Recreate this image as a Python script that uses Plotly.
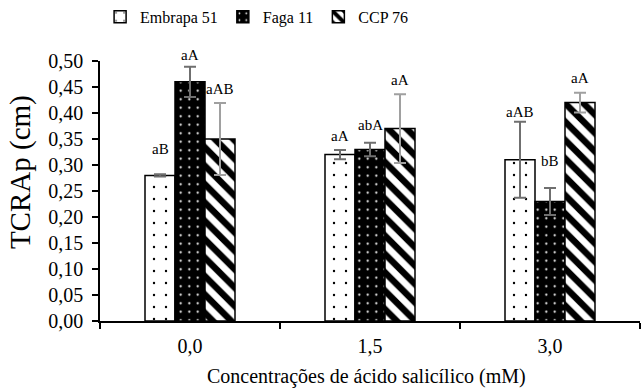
import plotly.graph_objects as go

categories = ["0,0", "1,5", "3,0"]
series_names = ["Embrapa 51", "Faga 11", "CCP 76"]
embrapa = [0.28, 0.32, 0.31]
faga = [0.46, 0.33, 0.23]
ccp = [0.35, 0.37, 0.42]
embrapa_err = [0.002, 0.009, 0.073]
faga_err = [0.029, 0.013, 0.026]
ccp_err = [0.069, 0.066, 0.019]
embrapa_lbl = ["aB", "aA", "aAB"]
faga_lbl = ["aA", "abA", "bB"]
ccp_lbl = ["aAB", "aA", "aA"]
x_title = "Concentrações de ácido salicílico (mM)"
y_title = "TCRAp (cm)"

values = [embrapa, faga, ccp]
errors = [embrapa_err, faga_err, ccp_err]
labels = [embrapa_lbl, faga_lbl, ccp_lbl]

FONT = "Liberation Serif, Times New Roman, serif"

patterns = [
    dict(shape=".", bgcolor="white", fgcolor="black", size=12, solidity=0.03, fillmode="replace"),
    dict(shape=".", bgcolor="black", fgcolor="white", size=8.5, solidity=0.05, fillmode="replace"),
    dict(shape="\\", bgcolor="white", fgcolor="black", size=13, solidity=0.5, fillmode="replace"),
]
err_colors = ["#6f6f6f", "#6f6f6f", "#a0a0a0"]

fig = go.Figure()
for i in range(3):
    fig.add_trace(go.Bar(
        x=categories, y=values[i], name=series_names[i],
        marker=dict(color="white" if i != 1 else "black", pattern=patterns[i],
                    line=dict(color="black", width=1.5)),
        error_y=dict(type="data", array=errors[i], color=err_colors[i], thickness=2, width=6),
    ))

# label pixel offsets above error bars (style)
shifts = [[25, 14, 10], [12, 18, 27], [14, 14, 15]]
offsets = [-1/6, 0, 1/6]
for i in range(3):
    for j in range(3):
        fig.add_annotation(
            x=j + offsets[i], y=values[i][j] + errors[i][j], xref="x", yref="y",
            text=labels[i][j], showarrow=False, yanchor="middle", yshift=shifts[i][j],
            font=dict(family=FONT, size=15, color="black"),
        )

# axis titles
fig.add_annotation(x=0.493, y=-0.215, xref="paper", yref="paper", text=x_title,
                   showarrow=False, xanchor="center", yanchor="middle",
                   font=dict(family=FONT, size=20, color="black"))
fig.add_annotation(x=-0.148, y=0.573, xref="paper", yref="paper", text=y_title,
                   showarrow=False, xanchor="center", yanchor="middle", textangle=-90,
                   font=dict(family=FONT, size=29, color="black"))

fig.update_layout(
    width=641, height=389,
    margin=dict(l=100, r=1, t=61, b=68, autoexpand=False),
    paper_bgcolor="white", plot_bgcolor="white",
    barmode="group", bargap=0.5, bargroupgap=0,
    separators=",.",
    font=dict(family=FONT, color="black"),
    showlegend=True,
    legend=dict(orientation="h", x=0.29, xanchor="center", y=1.17, yanchor="middle",
                font=dict(family=FONT, size=16, color="black"), itemwidth=30,
                bgcolor="rgba(0,0,0,0)"),
)
fig.update_xaxes(
    type="category", showline=True, linecolor="black", linewidth=1.5,
    ticks="outside", tickson="boundaries", ticklen=6, tickcolor="black", tickwidth=1.5,
    tickfont=dict(family=FONT, size=20, color="black"), automargin=False,
    ticklabelstandoff=6,
    showgrid=False, zeroline=False,
)
fig.update_yaxes(
    range=[0, 0.5], dtick=0.05, tickformat=".2f",
    showline=True, linecolor="black", linewidth=1.5,
    ticks="outside", ticklen=6, tickcolor="black", tickwidth=1.5,
    tickfont=dict(family=FONT, size=20, color="black"), automargin=False,
    ticklabelstandoff=5,
    showgrid=False, zeroline=False,
)

fig.write_html("out.html", config={"displayModeBar": False},
               post_script="document.body.style.margin='0';document.body.style.overflow='hidden';")
